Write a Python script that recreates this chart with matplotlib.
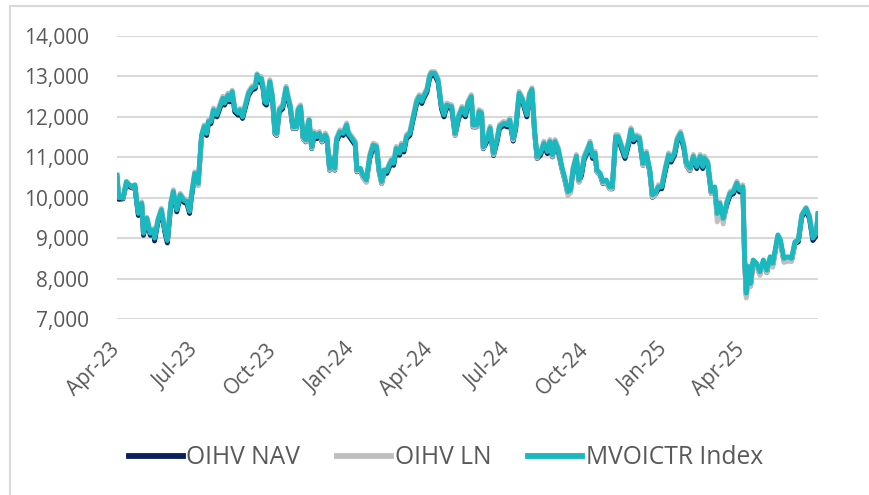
import matplotlib
matplotlib.use("Agg")
import matplotlib.pyplot as plt
import matplotlib.dates as mdates
from matplotlib.patches import Rectangle
import pandas as pd

plt.rcParams['font.family'] = ['Open Sans', 'DejaVu Sans']

# days after 2023-04-01
day_offsets = [
    0, 2, 7, 11, 14, 18, 21, 23, 25, 29, 31, 35,
    39, 43, 44, 48, 52, 56, 59, 63, 66, 70, 74, 78,
    82, 85, 87, 91, 95, 99, 102, 105, 107, 110, 113, 117,
    121, 124, 126, 130, 132, 135, 138, 142, 144, 147, 150, 154,
    158, 162, 164, 167, 169, 171, 173, 175, 177, 179, 182, 185,
    187, 190, 194, 198, 201, 203, 206, 210, 212, 215, 218, 221,
    223, 225, 228, 231, 234, 237, 240, 244, 246, 249, 252, 255,
    257, 261, 265, 269, 271, 275, 279, 281, 285, 288, 292, 296,
    300, 304, 307, 310, 313, 316, 319, 322, 324, 327, 331, 333,
    336, 339, 343, 347, 351, 354, 357, 359, 363, 366, 368, 372,
    376, 380, 383, 386, 392, 396, 400, 404, 408, 411, 415, 417,
    421, 424, 427, 429, 433, 437, 441, 445, 448, 453, 457, 460,
    464, 467, 471, 475, 480, 483, 486, 489, 492, 496, 500, 504,
    507, 510, 513, 517, 521, 525, 528, 531, 534, 538, 541, 544,
    547, 551, 554, 557, 560, 562, 566, 569, 573, 577, 580, 584,
    587, 591, 595, 599, 602, 605, 608, 612, 616, 620, 624, 627,
    630, 634, 638, 642, 646, 649, 653, 656, 660, 664, 667, 671,
    675, 679, 683, 686, 688, 692, 696, 700, 703, 706, 710, 714,
    718, 722, 726, 729, 733, 735, 737, 740, 742, 745, 749, 753,
    757, 761, 765, 768, 774, 777, 781, 786, 790, 794, 798, 802,
    807, 811, 815, 819, 821,
]

oihv_nav = [
    10520, 9960, 9970, 10350, 10280, 10240, 10280, 9890, 9560, 9820, 9070, 9440,
    9070, 9150, 8930, 9400, 9650, 9150, 8880, 9810, 10100, 9650, 10020, 9890,
    9850, 9610, 9980, 10550, 10310, 11500, 11710, 11540, 11830, 11830, 12120, 12000,
    12240, 12410, 12290, 12490, 12370, 12570, 12120, 12040, 12120, 11960, 12200, 12530,
    12660, 12700, 12990, 12860, 12900, 12700, 12330, 12290, 12530, 12820, 12450, 11580,
    11540, 12120, 12200, 12660, 12370, 12200, 11710, 11710, 12120, 12200, 11460, 11380,
    11710, 11870, 11210, 11540, 11460, 11540, 11380, 11500, 11420, 10680, 10920, 10680,
    11380, 11580, 11540, 11750, 11540, 11420, 11300, 10640, 10680, 10510, 10390, 10970,
    11250, 11210, 10640, 10350, 10640, 10600, 10760, 10880, 10800, 11170, 11050, 11250,
    11130, 11460, 11540, 11950, 12330, 12450, 12330, 12450, 12610, 12940, 13030, 13030,
    12860, 12200, 12000, 12240, 12200, 11540, 11950, 12160, 12000, 12290, 12450, 11750,
    11750, 12080, 12040, 11210, 11380, 11670, 11040, 11380, 11710, 11790, 11750, 11870,
    11400, 11710, 12530, 12370, 12000, 12490, 12630, 11630, 10970, 11050, 11300, 11090,
    11340, 11010, 11340, 11130, 10720, 10390, 10100, 10140, 10640, 10970, 10390, 10550,
    10930, 11130, 11300, 10970, 11050, 10640, 10550, 10350, 10390, 10220, 10220, 11460,
    11460, 11210, 10970, 11300, 11630, 11380, 11460, 11420, 10800, 11050, 10640, 10010,
    10060, 10220, 10220, 10640, 11010, 10880, 11050, 11380, 11540, 11210, 10790, 10670,
    10970, 10720, 10970, 10720, 10930, 10800, 10100, 10220, 9560, 9810, 9440, 9810,
    10060, 10100, 10310, 10140, 10220, 8480, 7580, 8240, 7820, 8400, 8320, 8110,
    8400, 8150, 8480, 8320, 9030, 8900, 8440, 8480, 8440, 8860, 8910, 9520,
    9690, 9480, 8940, 9060, 9560,
]

oihv_ln = [
    10540, 10020, 9990, 10380, 10340, 10260, 10300, 9980, 9640, 9900, 9150, 9520,
    9160, 9240, 9030, 9480, 9740, 9240, 8980, 9900, 10200, 9740, 10110, 9990,
    9950, 9700, 10080, 10640, 10300, 11500, 11800, 11640, 11920, 11930, 12220, 12100,
    12340, 12510, 12390, 12590, 12470, 12660, 12220, 12140, 12210, 12050, 12300, 12620,
    12760, 12800, 13070, 12960, 13000, 12800, 12430, 12390, 12630, 12920, 12550, 11600,
    11550, 12220, 12300, 12760, 12470, 12300, 11720, 11720, 12220, 12300, 11460, 11390,
    11800, 11960, 11220, 11640, 11560, 11640, 11390, 11600, 11520, 10690, 11020, 10690,
    11480, 11680, 11640, 11850, 11640, 11520, 11400, 10650, 10690, 10500, 10380, 11070,
    11350, 11310, 10650, 10350, 10650, 10690, 10860, 10980, 10900, 11270, 11150, 11350,
    11230, 11560, 11640, 12050, 12430, 12550, 12430, 12550, 12710, 13040, 13120, 13120,
    12960, 12300, 12100, 12340, 12300, 11540, 12050, 12260, 12100, 12390, 12550, 11760,
    11760, 12180, 12140, 11220, 11480, 11770, 11060, 11480, 11810, 11890, 11850, 11970,
    11430, 11810, 12630, 12470, 12100, 12590, 12720, 11640, 10980, 11150, 11400, 11190,
    11440, 11020, 11440, 11230, 10720, 10380, 10050, 10120, 10740, 11070, 10380, 10650,
    11030, 11230, 11400, 11070, 11150, 10640, 10560, 10360, 10390, 10220, 10230, 11560,
    11560, 11310, 11070, 11400, 11730, 11480, 11560, 11520, 10800, 11150, 10640, 10020,
    10060, 10320, 10320, 10740, 11110, 10980, 11150, 11480, 11640, 11310, 10790, 10680,
    11070, 10820, 11070, 10820, 11030, 10900, 10100, 10220, 9400, 9900, 9350, 9900,
    10150, 10200, 10410, 10240, 10320, 8480, 7520, 8250, 7800, 8400, 8300, 8080,
    8400, 8150, 8460, 8280, 9050, 8900, 8400, 8430, 8420, 8880, 8960, 9580,
    9760, 9550, 9040, 9120, 9600,
]

mvoictr_index = [
    10560, 10000, 10000, 10400, 10320, 10280, 10320, 9940, 9610, 9860, 9120, 9490,
    9120, 9200, 9000, 9450, 9700, 9200, 8940, 9860, 10150, 9700, 10070, 9940,
    9900, 9660, 10030, 10600, 10360, 11550, 11760, 11590, 11880, 11880, 12170, 12050,
    12290, 12460, 12340, 12540, 12420, 12620, 12170, 12090, 12170, 12000, 12250, 12580,
    12710, 12750, 13040, 12910, 12950, 12750, 12380, 12340, 12580, 12870, 12500, 11630,
    11590, 12170, 12250, 12710, 12420, 12250, 11760, 11760, 12170, 12250, 11510, 11430,
    11760, 11920, 11260, 11590, 11510, 11590, 11430, 11550, 11470, 10730, 10970, 10730,
    11430, 11630, 11590, 11800, 11590, 11470, 11350, 10690, 10730, 10560, 10440, 11020,
    11300, 11260, 10690, 10400, 10690, 10650, 10810, 10930, 10850, 11220, 11100, 11300,
    11180, 11510, 11590, 12000, 12380, 12500, 12380, 12500, 12660, 12990, 13080, 13080,
    12910, 12250, 12050, 12290, 12250, 11590, 12000, 12210, 12050, 12340, 12500, 11800,
    11800, 12130, 12090, 11260, 11430, 11720, 11100, 11430, 11760, 11840, 11800, 11920,
    11470, 11760, 12580, 12420, 12050, 12540, 12680, 11680, 11020, 11100, 11350, 11140,
    11390, 11060, 11390, 11180, 10770, 10440, 10150, 10190, 10690, 11020, 10440, 10600,
    10980, 11180, 11350, 11020, 11100, 10690, 10600, 10400, 10440, 10270, 10270, 11510,
    11510, 11260, 11020, 11350, 11680, 11430, 11510, 11470, 10850, 11100, 10690, 10070,
    10110, 10270, 10270, 10690, 11060, 10930, 11100, 11430, 11590, 11260, 10850, 10730,
    11020, 10770, 11020, 10770, 10980, 10850, 10150, 10270, 9610, 9860, 9490, 9860,
    10110, 10150, 10360, 10190, 10270, 8540, 7640, 8300, 7880, 8460, 8380, 8170,
    8460, 8210, 8540, 8380, 9080, 8960, 8500, 8540, 8500, 8910, 8960, 9570,
    9740, 9530, 9000, 9120, 9610,
]

series_names = ['OIHV NAV', 'OIHV LN', 'MVOICTR Index']
series_colors = ['#0A1F5C', '#BFBFBF', '#1BB8C0']

start = pd.Timestamp('2023-04-01')
dates = start + pd.to_timedelta(day_offsets, unit='D')

fig = plt.figure(figsize=(8.7, 4.95), dpi=100)
ax = fig.add_axes([117 / 870, 1 - 319 / 495, (818 - 117) / 870, (319 - 36) / 495])

for vals, name, col in zip([oihv_nav, oihv_ln, mvoictr_index], series_names, series_colors):
    ax.plot(dates, vals, color=col, lw=3.5, label=name, solid_joinstyle='round')

# axes styling, Excel look
ax.set_ylim(7000, 14000)
ax.set_yticks(range(7000, 14001, 1000))
ax.yaxis.set_major_formatter(matplotlib.ticker.FuncFormatter(lambda v, p: f'{int(v):,}'))
ax.set_xlim(start, pd.Timestamp('2025-06-30'))
ax.xaxis.set_major_locator(mdates.MonthLocator(bymonth=[1, 4, 7, 10]))
ax.xaxis.set_major_formatter(mdates.DateFormatter('%b-%y'))
ax.grid(axis='y', color='#D9D9D9', lw=1.5)
ax.set_axisbelow(True)
for s in ax.spines.values():
    s.set_visible(False)
ax.tick_params(length=0, labelsize=15, colors='#595959')
ax.tick_params(axis='y', pad=20)
ax.tick_params(axis='x', pad=20)
for lbl in ax.get_xticklabels():
    lbl.set_rotation(45)
    lbl.set_ha('right')
    lbl.set_va('center')
    lbl.set_rotation_mode('anchor')

leg = ax.legend(loc='center', bbox_to_anchor=(446 / 870, 1 - 458 / 495),
                bbox_transform=fig.transFigure, ncol=3, frameon=False,
                fontsize=17.7, handlelength=2.2, handletextpad=0.15,
                columnspacing=1.5, labelcolor='#595959')
for h in leg.get_lines():
    h.set_linewidth(4.2)

# light outer border of the chart box
fig.patches.append(Rectangle((10 / 870, -0.05), 1.2, 1 - 6 / 495 + 0.05,
                             transform=fig.transFigure, fill=False,
                             edgecolor='#D9D9D9', lw=1.5))

fig.savefig('out.png', dpi=100)
